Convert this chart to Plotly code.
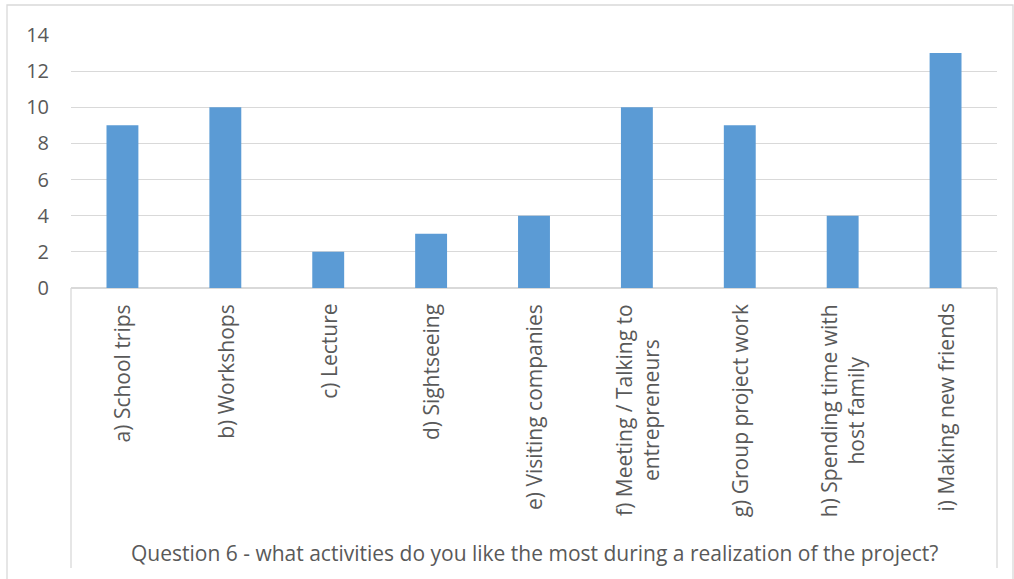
import plotly.graph_objects as go

categories = [
    "a) School trips",
    "b) Workshops",
    "c) Lecture",
    "d) Sightseeing",
    "e) Visiting companies",
    "f) Meeting / Talking to<br>entrepreneurs",
    "g) Group project work",
    "h) Spending time with<br>host family",
    "i) Making new friends",
]
values = [9, 10, 2, 3, 4, 10, 9, 4, 13]
y_ticks = [0, 2, 4, 6, 8, 10, 12, 14]
title_text = "Question 6 - what activities do you like the most during a realization of the project?"

# body margin is removed in the page, so figure px == page px
W, H = 1014, 579
L, R, T, B = 71, 997, 35, 288  # plot area in page px
ml, mt = L, T
mr, mb = W - R, H - B
pw, ph = R - L, B - T

def px(x):
    return (x - L) / pw

def py(y):
    return (B - y) / ph

FONT = "Open Sans"
TXT = "#595959"
GRID = "#D9D9D9"

fig = go.Figure(go.Bar(
    x=list(range(len(categories))),
    y=values,
    marker=dict(color="#5B9BD5", line=dict(width=0)),
    width=0.31,
))

annotations = []
for i, c in enumerate(categories):
    annotations.append(dict(
        x=i, xref="x", y=py(302), yref="paper",
        text=c, showarrow=False, textangle=-90,
        xanchor="center", yanchor="top", align="center",
        font=dict(family=FONT, size=21, color=TXT),
    ))
annotations.append(dict(
    x=px(534), xref="paper", y=py(553), yref="paper",
    text=title_text, showarrow=False, xanchor="center", yanchor="middle",
    font=dict(family=FONT, size=21, color=TXT),
))

shapes = [
    dict(type="rect", xref="paper", yref="paper",
         x0=px(7), x1=px(1013), y0=py(5), y1=py(600),
         line=dict(color=GRID, width=1.3), fillcolor="rgba(0,0,0,0)", layer="below"),
    dict(type="line", xref="paper", yref="paper",
         x0=0, x1=0, y0=0, y1=py(568), line=dict(color=GRID, width=1.3)),
    dict(type="line", xref="paper", yref="paper",
         x0=1, x1=1, y0=0, y1=py(568), line=dict(color=GRID, width=1.3)),
]

fig.update_layout(
    width=W, height=H,
    margin=dict(l=ml, r=mr, t=mt, b=mb, autoexpand=False),
    paper_bgcolor="white", plot_bgcolor="white",
    showlegend=False,
    annotations=annotations,
    shapes=shapes,
    xaxis=dict(
        range=[-0.5, len(categories) - 0.5],
        showticklabels=False, showgrid=False, zeroline=False,
        showline=False, ticks="",
    ),
    yaxis=dict(
        range=[0, 14], tickvals=y_ticks,
        showgrid=True, gridcolor=GRID, gridwidth=1.3,
        zeroline=True, zerolinecolor=GRID, zerolinewidth=1.5,
        showline=False, ticks="",
        tickfont=dict(family=FONT, size=20, color=TXT),
        ticklabelstandoff=21,
    ),
)

fig.write_html(
    "out.html",
    config={"displayModeBar": False},
    post_script="document.body.style.margin='0';document.body.style.overflow='hidden';",
)
